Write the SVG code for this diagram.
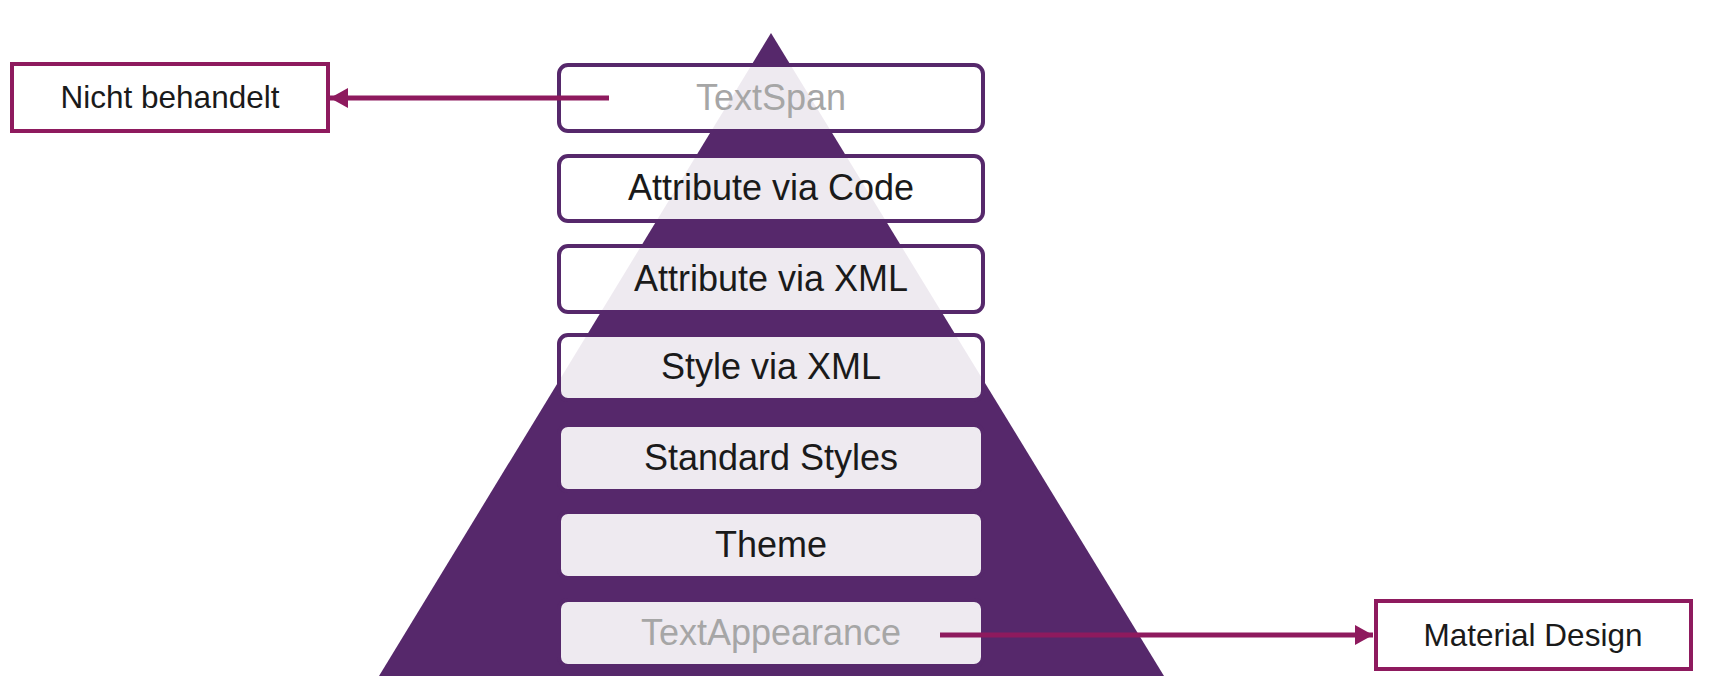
<svg xmlns="http://www.w3.org/2000/svg" width="1727" height="686" viewBox="0 0 1727 686">
<style>
.layer{fill:#ffffff;fill-opacity:0.9;stroke:#56286B;stroke-width:4}
.side{fill:#ffffff;stroke:#8E1A5E;stroke-width:4}
.lt{font-family:"Liberation Sans",Arial,sans-serif;font-size:36px;fill:#1a1a1a;text-anchor:middle}
.dim{fill:#A6A6A6}
.st{font-family:"Liberation Sans",Arial,sans-serif;font-size:31.5px;fill:#1a1a1a;text-anchor:middle}
.conn{stroke:#8E1A5E;stroke-width:5;fill:none;marker-end:url(#ah)}
</style>
<defs>
<marker id="ah" markerUnits="userSpaceOnUse" markerWidth="20" markerHeight="20" refX="18" refY="10" orient="auto">
<path d="M0,0 L18,10 L0,20 Z" fill="#8E1A5E"/>
</marker>
</defs>
<rect width="1727" height="686" fill="#ffffff"/>
<g id="pyramid">
<polygon points="771,33 1164,676 379,676" fill="#56286B"/>
</g>
<g id="textspan"><rect class="layer" x="559" y="65" width="424" height="66" rx="9"/><text class="lt dim" x="771" y="110">TextSpan</text></g>
<g id="attr-code"><rect class="layer" x="559" y="156" width="424" height="65" rx="9"/><text class="lt" x="771" y="200">Attribute via Code</text></g>
<g id="attr-xml"><rect class="layer" x="559" y="246" width="424" height="66" rx="9"/><text class="lt" x="771" y="291">Attribute via XML</text></g>
<g id="style-xml"><rect class="layer" x="559" y="335" width="424" height="65" rx="9"/><text class="lt" x="771" y="379">Style via XML</text></g>
<g id="standard-styles"><rect class="layer" x="559" y="425" width="424" height="66" rx="9"/><text class="lt" x="771" y="470">Standard Styles</text></g>
<g id="theme"><rect class="layer" x="559" y="512" width="424" height="66" rx="9"/><text class="lt" x="771" y="557">Theme</text></g>
<g id="textappearance"><rect class="layer" x="559" y="600" width="424" height="66" rx="9"/><text class="lt dim" x="771" y="645">TextAppearance</text></g>
<g id="nicht-behandelt"><rect class="side" x="12" y="64" width="316" height="67"/><text class="st" x="170" y="108">Nicht behandelt</text></g>
<g id="material-design"><rect class="side" x="1376" y="601" width="315" height="68"/><text class="st" x="1533" y="646">Material Design</text></g>
<g id="connectors">
<line class="conn" x1="609" y1="98" x2="330" y2="98"/>
<line class="conn" x1="940" y1="635" x2="1373" y2="635"/>
</g>
</svg>
